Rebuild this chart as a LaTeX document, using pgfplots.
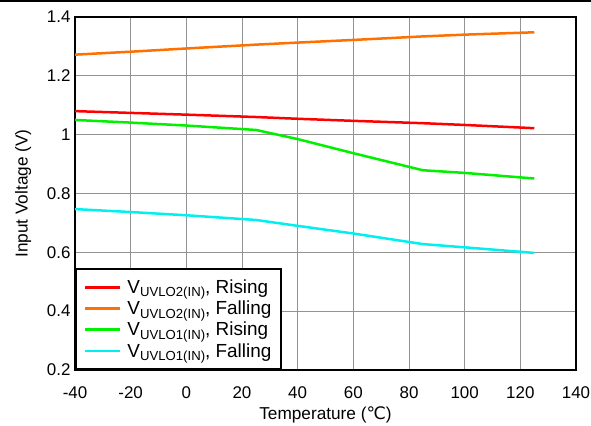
\documentclass[border=0pt]{standalone}
\usepackage{pgfplots}
\pgfplotsset{compat=1.18}
\usepackage{fontspec}
\setmainfont{Liberation Sans}
\newfontfamily\dejavu{DejaVu Sans}
\definecolor{cRed}{RGB}{255,0,0}
\definecolor{cOrange}{RGB}{255,112,0}
\definecolor{cGreen}{RGB}{0,240,0}
\definecolor{cCyan}{RGB}{0,240,240}
\newcommand{\sub}[1]{\raisebox{-3.5bp}{\fontsize{13.2}{14}\selectfont #1}}
\begin{document}
\begin{tikzpicture}
\useasboundingbox (0,0) rectangle (591bp,426bp);
\draw[line width=1.2bp] (0,425bp) -- (591bp,425bp);
\begin{axis}[
  at={(75bp,56bp)}, anchor=south west,
  scale only axis, width=501bp, height=353bp,
  xmin=-40, xmax=140, ymin=0.2, ymax=1.4,
  xtick={-40,-20,...,140},
  ytick={0.2,0.4,...,1.4},
  yticklabels={0.2,0.4,0.6,0.8,1,1.2,1.4},
  major tick length=0pt,
  grid=major,
  major grid style={gray!85, line width=1bp},
  axis line style={line width=2.2bp},
  tick label style={font=\fontsize{17}{20}\selectfont},
  xticklabel style={yshift=-13bp},
  yticklabel style={xshift=-1bp},
  /pgf/number format/assume math mode=true,
  label style={font=\fontsize{17.3}{20}\selectfont},
  xlabel={Temperature ({\dejavu ℃})},
  ylabel={Input Voltage (V)},
  xlabel style={yshift=-1bp},
  ylabel style={yshift=9bp},
  legend style={at={(0,0)}, anchor=south west, draw=black, line width=2bp,
    font=\fontsize{19}{22}\selectfont, row sep=2bp, column sep=4bp, inner xsep=8bp, inner ysep=8.5bp,
    legend cell align=left, cells={anchor=west}},
  legend image code/.code={\draw[#1,line width=2.5bp] (0bp,0bp) -- (35bp,0bp);},
  every axis plot/.append style={line width=2.5bp},
]
\addplot[cRed] coordinates {(-40,1.080) (-20,1.074) (0,1.068) (25,1.060) (40,1.054) (60,1.047) (85,1.039) (100,1.033) (125,1.022)};
\addlegendentry{V\sub{UVLO2(IN)}, Rising}
\addplot[cOrange] coordinates {(-40,1.272) (-20,1.282) (0,1.293) (25,1.306) (40,1.313) (60,1.322) (85,1.334) (100,1.340) (125,1.348)};
\addlegendentry{V\sub{UVLO2(IN)}, Falling}
\addplot[cGreen] coordinates {(-40,1.050) (-20,1.041) (0,1.031) (25,1.016) (40,0.985) (60,0.937) (85,0.879) (100,0.870) (125,0.851)};
\addlegendentry{V\sub{UVLO1(IN)}, Rising}
\addplot[cCyan] coordinates {(-40,0.747) (-20,0.737) (0,0.726) (25,0.710) (40,0.690) (60,0.664) (85,0.628) (100,0.617) (125,0.598)};
\addlegendentry{V\sub{UVLO1(IN)}, Falling}
\end{axis}
\end{tikzpicture}
\end{document}
